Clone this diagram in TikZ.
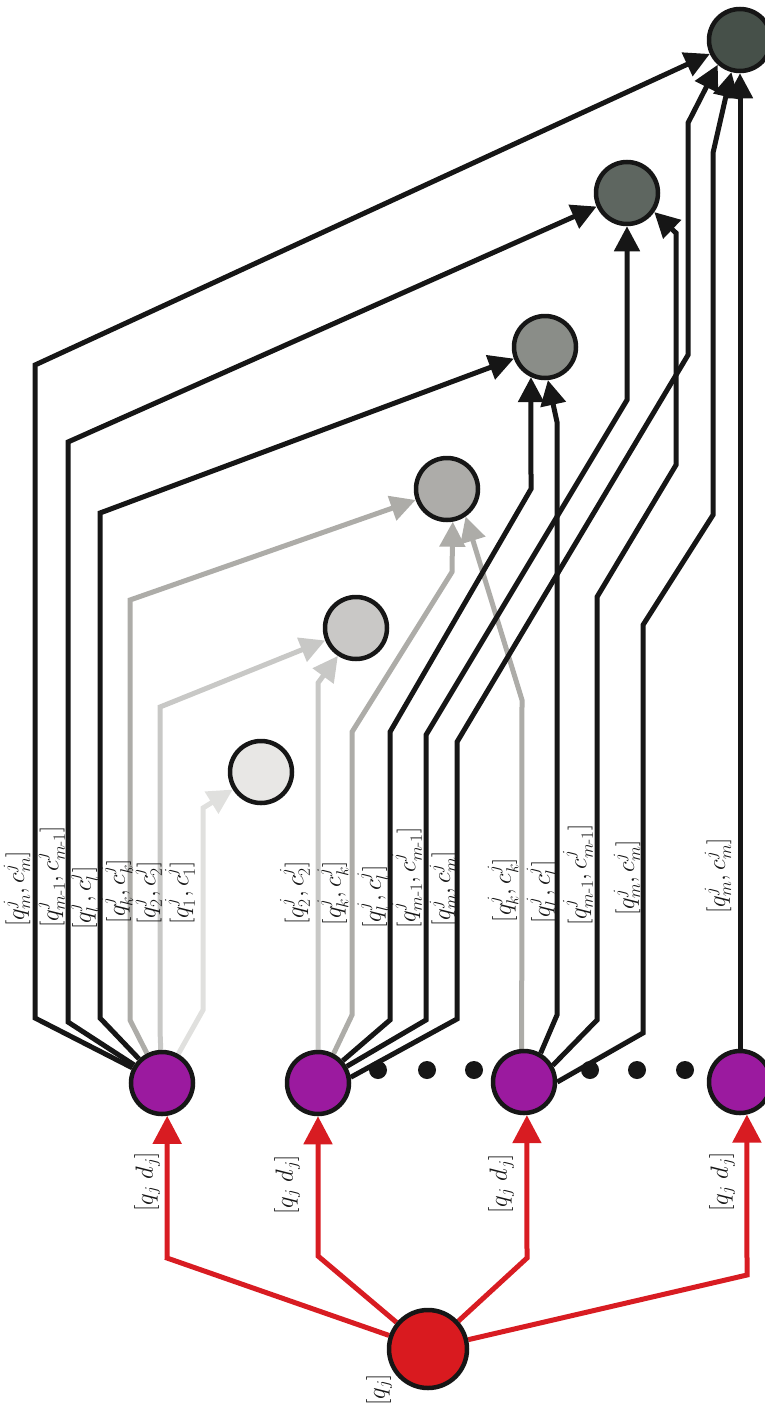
\documentclass[tikz,border=0pt]{standalone}
\usepackage{amsmath}
\usetikzlibrary{arrows.meta}
\pgfdeclarelayer{wires}
\pgfsetlayers{wires,main}

\definecolor{inkline}{HTML}{161616}
\definecolor{redline}{HTML}{D81C22}
\definecolor{redfill}{HTML}{D91A1F}
\definecolor{purplefill}{HTML}{9B1A9F}
\definecolor{grayk}{HTML}{ADACA8}
\definecolor{graytwo}{HTML}{C8C8C6}
\definecolor{grayone}{HTML}{E0E0DE}
\definecolor{fillone}{HTML}{E8E7E5}
\definecolor{filltwo}{HTML}{C9C8C6}
\definecolor{fillthree}{HTML}{ADACA9}
\definecolor{fillfour}{HTML}{8A8D88}
\definecolor{fillfive}{HTML}{5E6660}
\definecolor{fillsix}{HTML}{465049}

\tikzset{
  bubble/.style={circle, draw=inkline, line width=4.5pt, minimum size=62pt, inner sep=0pt},
  outnode/.style={bubble, fill=#1},
  srcnode/.style={bubble, fill=purplefill},
  rootnode/.style={bubble, fill=redfill, minimum size=78pt},
  dotnode/.style={circle, fill=inkline, minimum size=18pt, inner sep=0pt},
  flow/.style={line width=5pt, draw=#1, -{Triangle[length=25pt,width=25pt]}},
  redflow/.style={line width=5pt, draw=redline, -{Triangle[length=28pt,width=28pt]}},
  lbl/.style={rotate=90, text=inkline, font=\fontsize{24}{28}\selectfont, inner sep=0pt},
}

\begin{document}
\begin{tikzpicture}[x=1pt,y=-1pt]
\useasboundingbox (0,0) rectangle (765,1408);

% output nodes, lightest to darkest
\node[outnode=fillone]   (N1) at (261,772) {};
\node[outnode=filltwo]   (N2) at (356,628) {};
\node[outnode=fillthree] (N3) at (447,489) {};
\node[outnode=fillfour]  (N4) at (545,347) {};
\node[outnode=fillfive]  (N5) at (627,193) {};
\node[outnode=fillsix]   (N6) at (740,40) {};

% source nodes and root
\node[srcnode] (P1) at (162,1083) {};
\node[srcnode] (P2) at (318,1083) {};
\node[srcnode] (P3) at (524,1082) {};
\node[srcnode] (P4) at (740,1082) {};
\node[rootnode] (R) at (428,1349) {};

% ellipsis dots
\foreach \i/\x in {1/378,2/427,3/474,4/590,5/637,6/685}
  \node[dotnode] (d\i) at (\x,1070) {};

\begin{pgfonlayer}{wires}
  % light connectors
  \draw[flow=grayone] (P1) -- (203,1010) -- (203,808) -- (N1);
  \draw[flow=graytwo] (P1) -- (160,1030) -- (160,707) -- (N2);
  \draw[flow=grayk]   (P1) -- (130,1020) -- (130,600) -- (N3);
  \draw[flow=graytwo] (P2.90) -- (318,683) -- (N2.237);
  \draw[flow=grayk]   (P2.62) -- (352,1015) -- (352,732) -- (452,572) -- (N3.280);
  \draw[flow=grayk]   (P3.94) -- (522,700) -- (N3.304);

  % dark connectors
  \draw[flow=inkline] (P1) -- (35,1018) -- (35,365) -- (N6);
  \draw[flow=inkline] (P1) -- (68,1022) -- (68,442) -- (N5);
  \draw[flow=inkline] (P1) -- (100,1018) -- (100,513) -- (N4);
  \draw[flow=inkline] (P2.42) -- (390,1020) -- (390,732) -- (531,489) -- (N4.245);
  \draw[flow=inkline] (P2.30) -- (426,1020) -- (426,735) -- (627,400) -- (N5.south);
  \draw[flow=inkline] (P2.10) -- (457,1019) -- (457,742) -- (688,355) -- (688,123) -- (N6.228);
  \draw[flow=inkline] (P3.60) -- (557,1015) -- (557,422) -- (N4.275);
  \draw[flow=inkline] (P3.30) -- (597,1020) -- (597,597) -- (676,465) -- (676,233) -- (N5.325);
  \draw[flow=inkline] (P3.0) -- (643,1033) -- (643,625) -- (713,515) -- (713,153) -- (N6.255);
  \draw[flow=inkline] (P4.north) -- (N6.south);

  % root fan-out
  \draw[redflow] (R) -- (167,1258) -- (P1.279);
  \draw[redflow] (R) -- (318,1256) -- (P2.south);
  \draw[redflow] (R) -- (527,1258) -- (P3.275);
  \draw[redflow] (R) -- (747,1275) -- (P4.282);
\end{pgfonlayer}

% edge labels
\node[lbl] (a1) at (17,889)  {$[q_m^j, c_m^j]$};
\node[lbl] (a2) at (50,877)  {$[q_{m\text{-}1}^j, c_{m\text{-}1}^j]$};
\node[lbl] (a3) at (83,898)  {$[q_l^j, c_l^j]$};
\node[lbl] (a4) at (117,891) {$[q_k^j, c_k^j]$};
\node[lbl] (a5) at (147,893) {$[q_2^j, c_2^j]$};
\node[lbl] (a6) at (180,893) {$[q_1^j, c_1^j]$};

\node[lbl] (b1) at (295,893) {$[q_2^j, c_2^j]$};
\node[lbl] (b2) at (333,893) {$[q_k^j, c_k^j]$};
\node[lbl] (b3) at (373,897) {$[q_l^j, c_l^j]$};
\node[lbl] (b4) at (407,878) {$[q_{m\text{-}1}^j, c_{m\text{-}1}^j]$};
\node[lbl] (b5) at (443,889) {$[q_m^j, c_m^j]$};

\node[lbl] (c1) at (503,890) {$[q_k^j, c_k^j]$};
\node[lbl] (c2) at (542,892) {$[q_l^j, c_l^j]$};
\node[lbl] (c3) at (578,875) {$[q_{m\text{-}1}^j, c_{m\text{-}1}^j]$};
\node[lbl] (c4) at (627,878) {$[q_m^j, c_m^j]$};

\node[lbl] (e1) at (718,876) {$[q_m^j, c_m^j]$};

\node[lbl] (r1) at (147,1182) {$[q_j\; d_j]$};
\node[lbl] (r2) at (287,1185) {$[q_j\; d_j]$};
\node[lbl] (r3) at (501,1184) {$[q_j\; d_j]$};
\node[lbl] (r4) at (722,1182) {$[q_j\; d_j]$};
\node[lbl] (r0) at (379,1390) {$[q_j]$};
\end{tikzpicture}
\end{document}
